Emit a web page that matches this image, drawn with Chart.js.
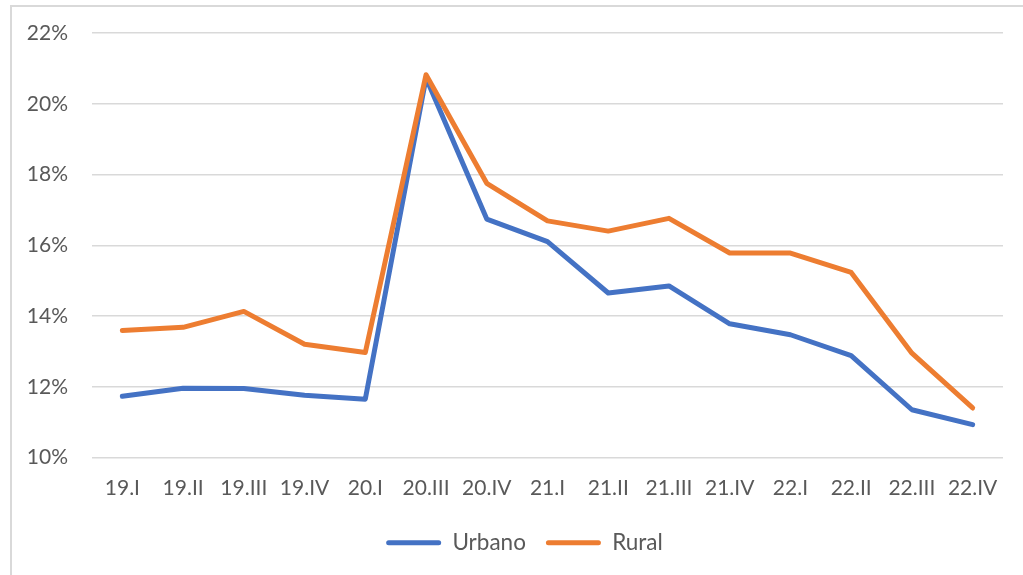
<!DOCTYPE html>
<html>
<head>
<meta charset="utf-8">
<script src="https://cdn.jsdelivr.net/npm/chart.js@4/dist/chart.umd.min.js"></script>
<style>
  html, body { margin: 0; padding: 0; background: #fff; }
  #frame {
    position: absolute; left: 10px; top: 5px; width: 1012px; height: 600px;
    border-top: 2px solid #d9d9d9; border-left: 2px solid #d9d9d9;
  }
  #wrap { position: absolute; left: 0; top: 0; width: 1023px; height: 575px; }
</style>
</head>
<body>
<div id="frame"></div>
<div id="wrap"><canvas id="chart"></canvas></div>
<script>
/* ----------------------------------------------------------
   Data
   ---------------------------------------------------------- */
const quarters = ['19.I', '19.II', '19.III', '19.IV', '20.I', '20.III', '20.IV',
  '21.I', '21.II', '21.III', '21.IV', '22.I', '22.II', '22.III', '22.IV'];

const urbano = [11.73, 11.96, 11.95, 11.76, 11.65, 20.73, 16.74,
  16.10, 14.65, 14.85, 13.78, 13.47, 12.88, 11.35, 10.93];

const rural = [13.59, 13.68, 14.13, 13.20, 12.97, 20.82, 17.75,
  16.69, 16.40, 16.76, 15.78, 15.78, 15.23, 12.95, 11.40];

const yTicks = [10, 12, 14, 16, 18, 20, 22];

const COLORS = { blue: '#4472C4', orange: '#ED7D31', grid: '#d9d9d9', text: '#595959' };
const FONT = { family: "Lato, 'Open Sans', sans-serif", size: 21 };

function lineSeries(label, data, color, order) {
  return {
    label, data, order,
    borderColor: color,
    backgroundColor: color,
    borderWidth: 5,
    borderCapStyle: 'round',
    borderJoinStyle: 'round',
    tension: 0,
    pointRadius: 0,
    fill: false,
  };
}

// the legend in the reference sits a bit right of centre
const legendShift = {
  id: 'legendShift',
  afterLayout(chart) {
    chart.legend.left += 23;
    chart.legend.right += 23;
  },
};

new Chart(document.getElementById('chart'), {
  type: 'line',
  data: {
    labels: quarters,
    datasets: [
      lineSeries('Urbano', urbano, COLORS.blue, 1),
      lineSeries('Rural', rural, COLORS.orange, 0),
    ],
  },
  plugins: [legendShift],
  options: {
    responsive: true,
    maintainAspectRatio: false,
    animation: false,
    layout: { padding: { top: 33, right: 20, bottom: 11, left: 0 } },
    plugins: {
      tooltip: { enabled: false },
      legend: {
        position: 'bottom',
        labels: {
          color: COLORS.text,
          font: { ...FONT, size: 22.5 },
          boxWidth: 55,
          boxHeight: 5,
          useBorderRadius: true,
          borderRadius: 2.5,
          padding: 20,
          sort: (a, b) => a.datasetIndex - b.datasetIndex,
          generateLabels: (chart) =>
            Chart.defaults.plugins.legend.labels.generateLabels(chart)
              .map(l => ({ ...l, lineWidth: 0 })),
        },
      },
    },
    scales: {
      x: {
        offset: true,
        grid: { display: false, drawTicks: false },
        border: { display: false },
        ticks: { color: COLORS.text, font: FONT, padding: 18, maxRotation: 0, autoSkip: false },
        afterFit: (s) => { s.height = 54; s.paddingLeft = 0; s.paddingRight = 0; },
      },
      y: {
        min: yTicks[0],
        max: yTicks[yTicks.length - 1],
        afterBuildTicks: (s) => { s.ticks = yTicks.map(v => ({ value: v })); },
        grid: { color: COLORS.grid, lineWidth: 1.5, drawTicks: false },
        border: { display: false },
        ticks: { color: COLORS.text, font: FONT, padding: 24, callback: (v) => v + '%' },
        afterFit: (s) => { s.width = 92; s.paddingTop = 0; s.paddingBottom = 0; },
      },
    },
  },
});
</script>
</body>
</html>
